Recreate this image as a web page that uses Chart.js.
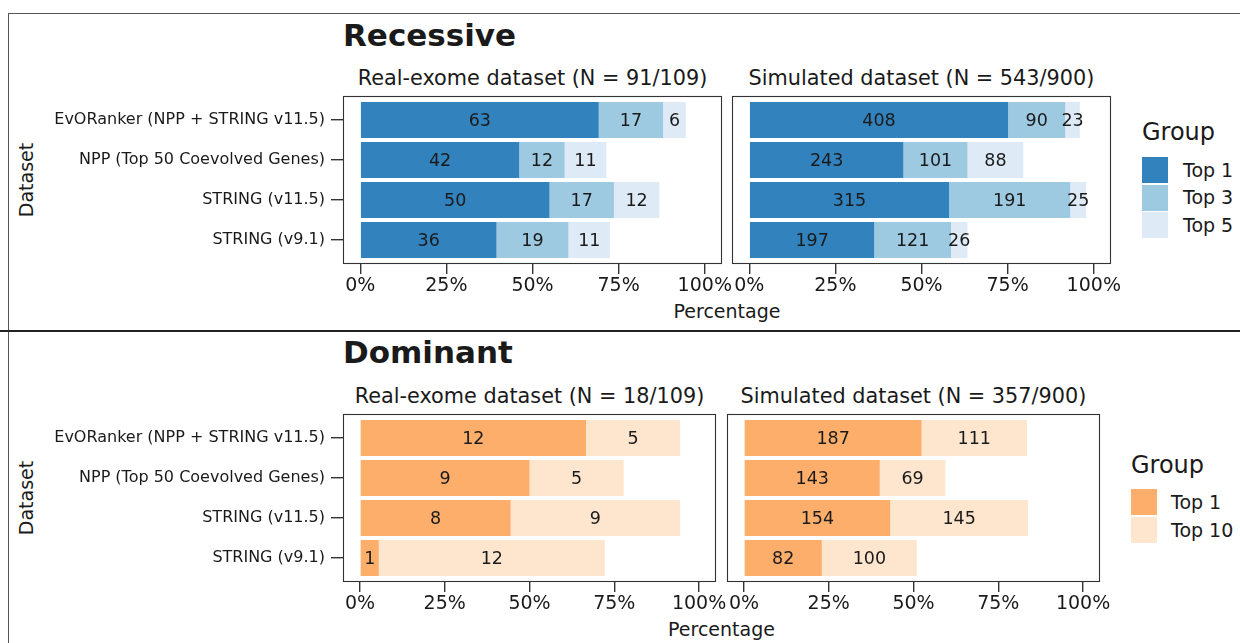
<!DOCTYPE html>
<html>
<head>
<meta charset="utf-8">
<script src="https://cdn.jsdelivr.net/npm/chart.js@4.4.1/dist/chart.umd.min.js"></script>
<style>
  html, body { margin: 0; padding: 0; background: #fff; }
  body { width: 1240px; height: 643px; position: relative; overflow: hidden;
         font-family: "DejaVu Sans", sans-serif; color: #1a1a1a; }
  canvas { position: absolute; }
  .t { position: absolute; white-space: nowrap; line-height: 1; }
  .title { font-weight: bold; font-size: 31px; }
  .sub { font-size: 20.8px; text-align: center; }
  .axis-title { font-size: 19px; text-align: center; }
  .rot { font-size: 19px; transform: translate(-50%, -50%) rotate(-90deg); }
  .lg-title { font-size: 24px; }
  .lg-label { font-size: 19px; }
  .key { position: absolute; width: 26px; height: 26px; }
  .rule { position: absolute; }
</style>
</head>
<body>
<!-- outer frame and section divider -->
<div class="rule" style="left:9px;top:13px;width:1231px;height:1px;background:#555;"></div>
<div class="rule" style="left:8px;top:13px;width:1px;height:630px;background:#555;"></div>
<div class="rule" style="left:0;top:330px;width:1240px;height:2px;background:#222;"></div>

<!-- Recessive section -->
<div class="t title" style="left:343px;top:19.8px;">Recessive</div>
<div class="t sub" style="left:343px;width:379px;top:68.4px;">Real-exome dataset (N = 91/109)</div>
<div class="t sub" style="left:732px;width:379px;top:68.4px;">Simulated dataset (N = 543/900)</div>
<div class="t rot" style="left:26px;top:180px;">Dataset</div>
<div class="t axis-title" style="left:343px;width:768px;top:301.9px;">Percentage</div>
<canvas id="recReal" width="760" height="210" style="left:0;top:90px;"></canvas>
<canvas id="recSim" width="430" height="210" style="left:700px;top:90px;"></canvas>
<div id="recLegend"></div>

<!-- Dominant section -->
<div class="t title" style="left:343px;top:336.8px;">Dominant</div>
<div class="t sub" style="left:343px;width:373px;top:386.4px;">Real-exome dataset (N = 18/109)</div>
<div class="t sub" style="left:727px;width:373px;top:386.4px;">Simulated dataset (N = 357/900)</div>
<div class="t rot" style="left:26px;top:498px;">Dataset</div>
<div class="t axis-title" style="left:343px;width:757px;top:620px;">Percentage</div>
<canvas id="domReal" width="760" height="210" style="left:0;top:408px;"></canvas>
<canvas id="domSim" width="430" height="210" style="left:700px;top:408px;"></canvas>
<div id="domLegend"></div>

<script>
// Methods compared, top row first
const methods = [
  'EvORanker (NPP + STRING v11.5)',
  'NPP (Top 50 Coevolved Genes)',
  'STRING (v11.5)',
  'STRING (v9.1)'
];
const pctTicks = [0, 25, 50, 75, 100];

const recessiveGroups = ['Top 1', 'Top 3', 'Top 5'];
const dominantGroups = ['Top 1', 'Top 10'];
const recessiveColors = ['#3182BD', '#9ECAE1', '#DEEBF7'];
const dominantColors = ['#FDAE6B', '#FEE6CE'];

// Solved-case counts per rank group
const recRealTop1 = [63, 42, 50, 36];
const recRealTop3 = [17, 12, 17, 19];
const recRealTop5 = [6, 11, 12, 11];
const recSimTop1 = [408, 243, 315, 197];
const recSimTop3 = [90, 101, 191, 121];
const recSimTop5 = [23, 88, 25, 26];
const domRealTop1 = [12, 9, 8, 1];
const domRealTop10 = [5, 5, 9, 12];
const domSimTop1 = [187, 143, 154, 82];
const domSimTop10 = [111, 69, 145, 100];

// Number of cases in each panel (percentages are relative to these)
const recRealN = 91;
const recSimN = 543;
const domRealN = 18;
const domSimN = 357;

Chart.defaults.font.family = '"DejaVu Sans", sans-serif';
Chart.defaults.color = '#1a1a1a';

// Box around each panel's plotting area
const panelFrame = {
  id: 'panelFrame',
  afterDatasetsDraw(chart) {
    const { left, top, right, bottom } = chart.chartArea;
    const ctx = chart.ctx;
    ctx.save();
    ctx.strokeStyle = '#333';
    ctx.lineWidth = 1.1;
    ctx.strokeRect(Math.round(left) + 0.5, Math.round(top) + 0.5,
                   Math.round(right - left) - 1, Math.round(bottom - top) - 1);
    ctx.restore();
  }
};

// Count printed in the middle of every segment
const segmentCounts = {
  id: 'segmentCounts',
  afterDatasetsDraw(chart) {
    const ctx = chart.ctx;
    ctx.save();
    ctx.font = '17.5px "DejaVu Sans", sans-serif';
    ctx.fillStyle = '#1a1a1a';
    ctx.textAlign = 'center';
    ctx.textBaseline = 'middle';
    chart.data.datasets.forEach((ds, k) => {
      chart.getDatasetMeta(k).data.forEach((bar, i) => {
        ctx.fillText(String(ds.counts[i]), (bar.x + bar.base) / 2, bar.y + 1);
      });
    });
    ctx.restore();
  }
};

function drawPanel(id, groups, colors, series, n, layout) {
  const datasets = series.map((counts, k) => ({
    label: groups[k],
    counts: counts,
    data: counts.map((c, i) => ({ x: c / n * 100, y: i + 1 })),
    backgroundColor: colors[k],
    borderWidth: 0,
    barPercentage: 0.9,
    categoryPercentage: 1
  }));
  return new Chart(document.getElementById(id), {
    type: 'bar',
    data: { datasets },
    options: {
      indexAxis: 'y',
      responsive: false,
      animation: false,
      layout: { padding: layout.padding },
      plugins: { legend: { display: false }, tooltip: { enabled: false } },
      scales: {
        x: {
          type: 'linear', min: -5, max: 105, stacked: true,
          afterBuildTicks: s => { s.ticks = pctTicks.map(v => ({ value: v })); },
          afterFit: s => { s.height = layout.xAxisHeight; },
          grid: { drawOnChartArea: false, drawTicks: true, tickLength: 10, color: '#333', lineWidth: 1.4 },
          border: { display: false },
          ticks: { font: { size: 19 }, color: '#1a1a1a', padding: 1, maxRotation: 0, autoSkip: false,
                   callback: v => v + '%' }
        },
        y: {
          type: 'linear', min: 0.4, max: 4.6, reverse: true, stacked: true, offset: false,
          display: layout.showY,
          afterBuildTicks: s => { s.ticks = methods.map((m, i) => ({ value: i + 1 })); },
          afterFit: s => { s.width = layout.yAxisWidth; s.paddingTop = 0; s.paddingBottom = 0; },
          grid: { offset: false, drawOnChartArea: false, drawTicks: true, tickLength: 12, color: '#333', lineWidth: 1.4 },
          border: { display: false },
          ticks: { font: { size: 16 }, color: '#1a1a1a', padding: 6, autoSkip: false,
                   callback: v => methods[Math.round(v) - 1] }
        }
      }
    },
    plugins: [panelFrame, segmentCounts]
  });
}

drawPanel('recReal', recessiveGroups, recessiveColors, [recRealTop1, recRealTop3, recRealTop5], recRealN,
  { padding: { top: 6, right: 38, left: 0, bottom: 0 }, xAxisHeight: 36, yAxisWidth: 343, showY: true });
drawPanel('recSim', recessiveGroups, recessiveColors, [recSimTop1, recSimTop3, recSimTop5], recSimN,
  { padding: { top: 6, right: 19, left: 32, bottom: 0 }, xAxisHeight: 36, yAxisWidth: 0, showY: false });
drawPanel('domReal', dominantGroups, dominantColors, [domRealTop1, domRealTop10], domRealN,
  { padding: { top: 6, right: 44, left: 0, bottom: 0 }, xAxisHeight: 36, yAxisWidth: 343, showY: true });
drawPanel('domSim', dominantGroups, dominantColors, [domSimTop1, domSimTop10], domSimN,
  { padding: { top: 6, right: 30, left: 27, bottom: 0 }, xAxisHeight: 36, yAxisWidth: 0, showY: false });

// "Group" legends
function drawLegend(hostId, groups, colors, x, titleTop, keyTops, labelX) {
  const host = document.getElementById(hostId);
  const title = document.createElement('div');
  title.className = 't lg-title';
  title.style.left = x + 'px';
  title.style.top = titleTop + 'px';
  title.textContent = 'Group';
  host.appendChild(title);
  groups.forEach((g, k) => {
    const key = document.createElement('div');
    key.className = 'key';
    key.style.left = x + 'px';
    key.style.top = keyTops[k] + 'px';
    key.style.background = colors[k];
    host.appendChild(key);
    const lab = document.createElement('div');
    lab.className = 't lg-label';
    lab.style.left = labelX + 'px';
    lab.style.top = (keyTops[k] + 13 + 7 - 16.1) + 'px';
    lab.textContent = g;
    host.appendChild(lab);
  });
}
drawLegend('recLegend', recessiveGroups, recessiveColors, 1142, 119.7, [157, 184.5, 212], 1183);
drawLegend('domLegend', dominantGroups, dominantColors, 1131, 452.7, [489, 517], 1171);
</script>
</body>
</html>
